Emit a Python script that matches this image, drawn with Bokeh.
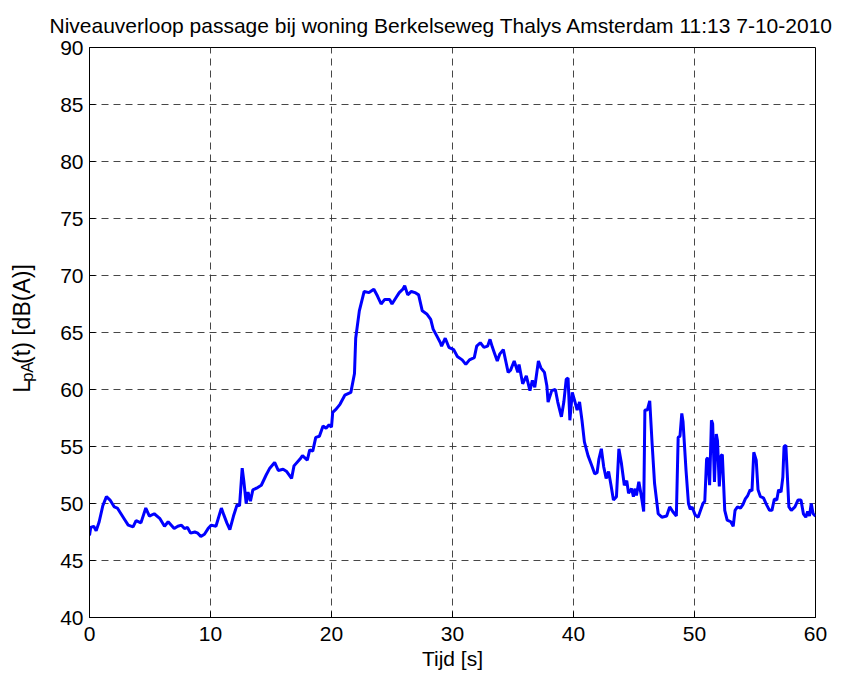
import math
from bokeh.plotting import figure
from bokeh.models import Label, FixedTicker, Range1d
from bokeh.layouts import row
from bokeh.embed import file_html
from bokeh.resources import INLINE

title_text = "Niveauverloop passage bij woning Berkelseweg Thalys Amsterdam 11:13 7-10-2010"
x_label = "Tijd [s]"
y_label_parts = ["L", "pA", "(t) [dB(A)]"]
x_ticks = [0, 10, 20, 30, 40, 50, 60]
y_ticks = [40, 45, 50, 55, 60, 65, 70, 75, 80, 85, 90]

time_s = [
    0.0, 0.1, 0.35, 0.55, 0.8, 1.1, 1.4, 1.7, 2.05, 2.3, 2.6, 2.9, 3.2, 3.6, 3.85,
    4.25, 4.65, 4.95, 5.35, 5.8, 6.2, 6.5, 7.0, 7.3, 7.6, 7.85, 8.1, 8.35, 8.7,
    8.95, 9.2, 9.5, 9.8, 10.05, 10.45, 10.9, 11.1, 11.35, 11.6, 11.9, 12.2, 12.4,
    12.62, 12.75, 12.95, 13.1, 13.3, 13.5, 13.9, 14.2, 14.6, 14.9, 15.3, 15.6,
    16.0, 16.3, 16.7, 16.9, 17.4, 17.6, 18.0, 18.2, 18.45, 18.7, 19.0, 19.3,
    19.55, 19.8, 20.0, 20.1, 20.4, 20.7, 21.1, 21.6, 21.9, 22.0, 22.3, 22.7,
    23.1, 23.5, 23.8, 24.1, 24.4, 24.8, 25.0, 25.3, 25.6, 25.9, 26.05, 26.3,
    26.6, 26.9, 27.2, 27.5, 27.9, 28.2, 28.4, 28.7, 29.0, 29.1, 29.4, 29.7,
    30.1, 30.4, 30.8, 31.1, 31.4, 31.8, 32.0, 32.3, 32.6, 32.9, 33.1, 33.3,
    33.5, 33.7, 33.9, 34.2, 34.4, 34.6, 34.8, 35.1, 35.4, 35.5, 35.8, 36.1,
    36.4, 36.6, 36.8, 37.1, 37.3, 37.6, 37.8, 37.9, 38.2, 38.5, 38.7, 39.0,
    39.2, 39.4, 39.55, 39.7, 39.9, 40.1, 40.3, 40.5, 40.7, 40.9, 41.2, 41.5,
    41.75, 41.95, 42.1, 42.3, 42.5, 42.7, 42.9, 43.1, 43.3, 43.55, 43.75,
    43.95, 44.2, 44.4, 44.55, 44.8, 44.95, 45.1, 45.2, 45.4, 45.6, 45.8, 45.9,
    46.1, 46.3, 46.5, 46.7, 47.0, 47.3, 47.7, 47.95, 48.2, 48.5, 48.65, 48.8,
    48.95, 49.05, 49.3, 49.5, 49.65, 49.8, 50.05, 50.3, 50.5, 50.7, 50.85,
    51.0, 51.1, 51.25, 51.4, 51.5, 51.65, 51.8, 51.9, 52.05, 52.2, 52.3, 52.5,
    52.7, 53.0, 53.2, 53.35, 53.55, 53.8, 54.0, 54.2, 54.4, 54.6, 54.75, 54.9,
    55.1, 55.25, 55.45, 55.7, 55.95, 56.2, 56.4, 56.6, 56.8, 56.95, 57.15,
    57.3, 57.4, 57.55, 57.8, 58.0, 58.3, 58.55, 58.8, 59.0, 59.2, 59.35, 59.5,
    59.65, 59.8, 60.0,
]

level_dba = [
    47.2, 47.9, 48.0, 47.6, 48.4, 49.8, 50.6, 50.3, 49.7, 49.6, 49.1, 48.6, 48.1, 47.95, 48.5,
    48.3, 49.6, 48.9, 49.1, 48.7, 48.0, 48.4, 47.8, 48.0, 48.1, 47.8, 47.9, 47.4, 47.5,
    47.4, 47.1, 47.3, 47.8, 48.1, 48.0, 49.6, 49.0, 48.3, 47.7, 48.9, 49.9, 49.8,
    53.1, 52.0, 50.0, 51.0, 50.2, 51.2, 51.4, 51.6, 52.5, 53.1, 53.6, 52.9,
    53.0, 52.8, 52.2, 53.3, 53.9, 54.2, 53.8, 54.7, 54.6, 55.8, 55.9, 56.8,
    56.6, 56.9, 56.7, 58.0, 58.3, 58.7, 59.5, 59.75, 61.4, 64.5, 66.9, 68.6,
    68.5, 68.8, 68.2, 67.5, 67.9, 67.9, 67.5, 68.0, 68.5, 68.8, 69.1, 68.3,
    68.6, 68.5, 68.3, 66.9, 66.6, 66.15, 65.3, 64.7, 64.1, 63.8, 64.5, 63.7,
    63.5, 62.9, 62.6, 62.2, 62.6, 62.8, 63.8, 64.1, 63.7, 63.8, 64.4, 63.7,
    63.1, 62.5, 63.1, 63.5, 62.5, 61.5, 61.7, 62.5, 61.5, 62.2, 60.5, 61.2,
    59.9, 60.8, 60.2, 62.5, 61.9, 61.5, 60.3, 58.9, 59.9, 60.0, 58.9, 57.6,
    58.9, 60.9, 61.0, 57.3, 59.75, 59.0, 58.2, 58.9, 57.3, 55.4, 54.2, 53.35,
    52.6, 52.7, 53.9, 54.8, 53.2, 52.2, 52.8, 51.6, 50.3, 50.6, 54.8,
    53.6, 51.6, 52.0, 50.9, 51.3, 50.6, 51.3, 50.7, 51.9, 50.7, 49.3, 58.2,
    58.2, 59.0, 55.2, 51.75, 49.1, 48.8, 48.9, 49.7, 49.3, 48.9, 55.8, 55.9,
    57.9, 57.2, 52.9, 50.0, 49.5, 49.7, 49.0, 48.8, 49.4, 50.0, 50.2,
    53.9, 54.0, 51.6, 57.3, 57.0, 51.9, 56.1, 55.5, 51.5, 54.2, 54.3, 49.4,
    48.55, 48.4, 48.0, 49.4, 49.7, 49.6, 49.9, 50.4, 50.7, 51.2, 51.1, 54.5,
    53.8, 51.2, 50.6, 50.5, 49.9, 49.4, 49.4, 50.4, 50.3, 51.2, 51.0,
    52.3, 55.0, 55.1, 49.7, 49.4, 49.7, 50.3, 50.3, 49.1, 48.8, 49.3, 48.9,
    50.0, 49.1, 48.9,
]

FONT = "Liberation Sans"
FS = "21px"
H = 672
LEFT_W = 40

# narrow strip that carries the rotated y-axis label (with subscript)
lab = figure(width=LEFT_W, height=H, output_backend="svg", toolbar_location=None,
             x_range=Range1d(0, LEFT_W), y_range=Range1d(0, H),
             x_axis_type=None, y_axis_type=None, min_border=0,
             background_fill_color="white", border_fill_color="white",
             outline_line_color=None)
ang = math.pi / 2
lab.add_layout(Label(x=21, y=H - 407, text=y_label_parts[0], angle=ang,
                     text_font=FONT, text_font_size="23px", text_align="left",
                     text_baseline="alphabetic", text_color="black"))
lab.add_layout(Label(x=26, y=H - 394.2, text=y_label_parts[1], angle=ang,
                     text_font=FONT, text_font_size="16.5px", text_align="left",
                     text_baseline="alphabetic", text_color="black"))
lab.add_layout(Label(x=21, y=H - 373, text=y_label_parts[2], angle=ang,
                     text_font=FONT, text_font_size="23px", text_align="left",
                     text_baseline="alphabetic", text_color="black"))

p = figure(width=847 - LEFT_W, height=H, output_backend="svg", toolbar_location=None,
           x_range=Range1d(0, 60), y_range=Range1d(40, 90),
           min_border_left=89 - LEFT_W, min_border_right=32, min_border_top=47,
           min_border_bottom=H - 617, background_fill_color="white",
           border_fill_color="white")

p.title.text = title_text
p.title.text_font = FONT
p.title.text_font_size = "21px"
p.title.text_font_style = "normal"
p.title.align = "left"
p.title.offset = -40
p.title.vertical_align = "top"
p.title.text_color = "black"
p.title.standoff = 18

p.line(time_s, level_dba, line_color="#0000FF", line_width=3)

for ax in (p.xaxis[0], p.yaxis[0]):
    ax.major_label_text_font = FONT
    ax.major_label_text_font_size = FS
    ax.major_label_text_color = "black"
    ax.axis_line_color = "black"
    ax.major_tick_line_color = "black"
    ax.major_tick_in = 6
    ax.major_tick_out = 0
    ax.minor_tick_line_color = None

p.xaxis.ticker = FixedTicker(ticks=x_ticks)
p.yaxis.ticker = FixedTicker(ticks=y_ticks)
p.xaxis.major_label_standoff = 9
p.yaxis.major_label_standoff = 6
p.xaxis.axis_label = x_label
p.xaxis.axis_label_text_font = FONT
p.xaxis.axis_label_text_font_size = FS
p.xaxis.axis_label_text_font_style = "normal"
p.xaxis.axis_label_text_color = "black"
p.xaxis.axis_label_standoff = 3

p.outline_line_color = "black"
p.outline_line_alpha = 1
p.outline_line_width = 1

for g in (p.xgrid[0], p.ygrid[0]):
    g.grid_line_color = "#333333"
    g.grid_line_dash = "7 5"
    g.grid_line_width = 1
    g.grid_line_alpha = 0.9

layout = row(lab, p, spacing=0)
open("out.html", "w").write(file_html(layout, INLINE))
